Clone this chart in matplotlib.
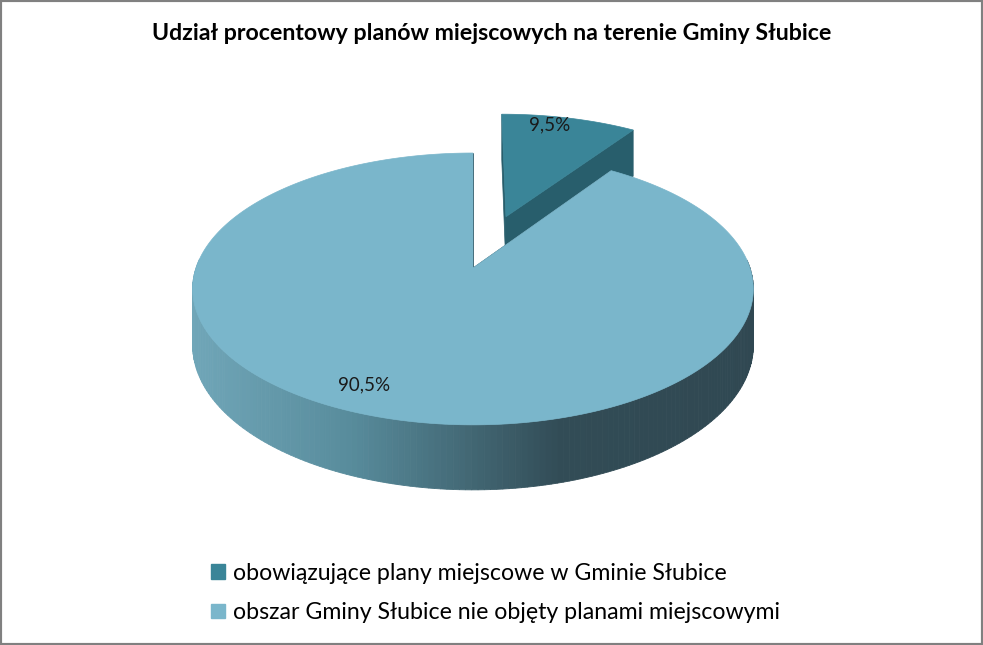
import numpy as np
import matplotlib
matplotlib.use("Agg")
import matplotlib.pyplot as plt
from matplotlib.patches import Polygon, Rectangle, Patch

title = "Udział procentowy planów miejscowych na terenie Gminy Słubice"
labels = ["obowiązujące plany miejscowe w Gminie Słubice",
          "obszar Gminy Słubice nie objęty planami miejscowymi"]
values = [9.5, 90.5]
explode = [0.43, 0.0]

top_colors = ["#3a8598", "#7ab6cb"]
cut_colors = ["#285e6c", "#2f4d57"]

plt.rcParams["font.family"] = ["Lato", "DejaVu Sans"]

# projection of the tilted pie (pixel space)
CX, CY = 473, 268
A, K, P, H = 277, 132.7, 0.154, 55


def proj(u, v, z=0.0):
    s = 1.0 / (1.0 + P * v)
    return CX + A * u * s, CY - K * v * s + H * z * s


def side_color(x):
    stops_x = [193, 350, 560, 760]
    stops_c = np.array([[112, 166, 184], [88, 140, 156], [50, 76, 86], [48, 72, 82]]) / 255
    return tuple(np.interp(x, stops_x, stops_c[:, i]) for i in range(3))


fig = plt.figure(figsize=(9.83, 6.45), dpi=100)
ax = fig.add_axes([0, 0, 1, 1])
ax.set_xlim(0, 983)
ax.set_ylim(645, 0)
ax.axis("off")

total = sum(values)
# excel style: start at 12 o'clock, clockwise
starts = []
acc = 0
for v in values:
    starts.append((90 - acc / total * 360, 90 - (acc + v) / total * 360))
    acc += v

# label placement (radius, angle shift in degrees)
lab_r = [0.91, 0.85]
lab_shift = [4, -7]

for i in range(len(values)):
    a0, a1 = starts[i]
    mid = np.radians((a0 + a1) / 2)
    ox, oy = explode[i] * np.cos(mid), explode[i] * np.sin(mid)
    phis = np.radians(np.linspace(a1, a0, 300))
    us = ox + np.cos(phis)
    vs = oy + np.sin(phis)

    # outer wall, front part only
    for k in range(len(phis) - 1):
        if np.sin(phis[k]) > 0.05 and np.sin(phis[k + 1]) > 0.05:
            continue
        p1 = proj(us[k], vs[k]); p2 = proj(us[k + 1], vs[k + 1])
        p3 = proj(us[k + 1], vs[k + 1], 1); p4 = proj(us[k], vs[k], 1)
        c = side_color((p1[0] + p2[0]) / 2)
        ax.add_patch(Polygon([p1, p2, p3, p4], closed=True, facecolor=c, edgecolor=c, lw=0.6, zorder=2))

    # cut faces
    for ang in (a0, a1):
        r = np.radians(ang)
        inner_t = proj(ox, oy); inner_b = proj(ox, oy, 1)
        outer_t = proj(ox + np.cos(r), oy + np.sin(r)); outer_b = proj(ox + np.cos(r), oy + np.sin(r), 1)
        ax.add_patch(Polygon([inner_t, outer_t, outer_b, inner_b], closed=True,
                             facecolor=cut_colors[i], edgecolor=cut_colors[i], lw=0.5, zorder=2))

    # top face
    pts = [proj(ox, oy)] + [proj(u, v) for u, v in zip(us, vs)]
    ax.add_patch(Polygon(pts, closed=True, facecolor=top_colors[i], edgecolor=top_colors[i], lw=0.5, zorder=3))

    # percentage label
    la = mid + np.radians(lab_shift[i])
    lx, ly = proj(ox + lab_r[i] * np.cos(la), oy + lab_r[i] * np.sin(la))
    ax.text(lx, ly, ("%.1f" % (values[i] / total * 100)).replace(".", ",") + "%",
            ha="center", va="center", fontsize=13.5, color="#1a1a1a", zorder=5)

fig.text(0.5, 1 - 33 / 645, title, ha="center", va="center", fontsize=16.7, fontweight="bold", color="black")

handles = [Patch(facecolor=c, edgecolor=c) for c in top_colors]
fig.legend(handles, labels, loc="center left", bbox_to_anchor=(211 / 983, 1 - 593 / 645),
           frameon=False, fontsize=16.7, handlelength=0.6, handleheight=0.6,
           handletextpad=0.35, labelspacing=0.8, borderpad=0, borderaxespad=0)

fig.patches.append(Rectangle((0, 0), 1, 1, transform=fig.transFigure, fill=False,
                             edgecolor="#808080", lw=3))

plt.savefig("out.png", dpi=100)
